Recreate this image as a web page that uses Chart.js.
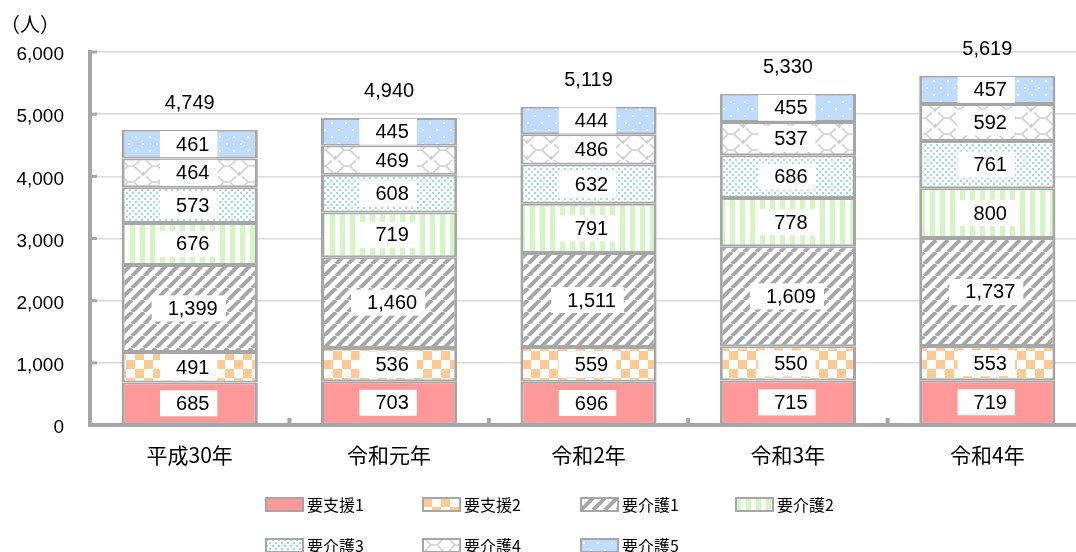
<!DOCTYPE html>
<html><head><meta charset="utf-8">
<script src="https://cdn.jsdelivr.net/npm/chart.js@4/dist/chart.umd.min.js"></script>
<style>
html,body{margin:0;padding:0;background:#fff;overflow:hidden;width:1076px;height:552px;}
#wrap{position:absolute;left:0;top:0;width:1090px;height:552px;}
</style></head>
<body><div id="wrap"><canvas id="c" width="1090" height="552"></canvas></div>
<script>
const categories = ['平成30年','令和元年','令和2年','令和3年','令和4年'];
const seriesNames = ['要支援1','要支援2','要介護1','要介護2','要介護3','要介護4','要介護5'];
const s1 = [685, 703, 696, 715, 719];
const s2 = [491, 536, 559, 550, 553];
const k1 = [1399, 1460, 1511, 1609, 1737];
const k2 = [676, 719, 791, 778, 800];
const k3 = [573, 608, 632, 686, 761];
const k4 = [464, 469, 486, 537, 592];
const k5 = [461, 445, 444, 455, 457];
const totals = [4749, 4940, 5119, 5330, 5619];
const yTicks = [0, 1000, 2000, 3000, 4000, 5000, 6000];

function tile(w, h, draw){
  const c = document.createElement('canvas'); c.width = w; c.height = h;
  const g = c.getContext('2d'); draw(g, w, h);
  return g.createPattern(c, 'repeat');
}
const patterns = [
  '#ff9999',
  tile(18,18,(g)=>{g.fillStyle='#fff';g.fillRect(0,0,18,18);g.fillStyle='#ffc993';g.fillRect(0,0,9,9);g.fillRect(9,9,9,9);}),
  tile(12,12,(g)=>{g.fillStyle='#fff';g.fillRect(0,0,12,12);g.strokeStyle='#a6a6a6';g.lineWidth=4;
    for(const o of [-12,0,12]){g.beginPath();g.moveTo(o,12);g.lineTo(o+12,0);g.stroke();}}),
  tile(10,10,(g)=>{g.fillStyle='#fff';g.fillRect(0,0,10,10);g.fillStyle='#d3f6c2';g.fillRect(0,0,5,10);}),
  tile(6,6,(g)=>{g.fillStyle='#fff';g.fillRect(0,0,6,6);g.fillStyle='#95e3cc';g.fillRect(0,0,2,2);g.fillRect(3,3,2,2);}),
  tile(24,16,(g)=>{g.fillStyle='#fff';g.fillRect(0,0,24,16);g.strokeStyle='#cfcfcf';g.lineWidth=1.6;
    g.beginPath();g.moveTo(0,14);g.lineTo(8,6);g.lineTo(14,6);g.lineTo(22,14);g.lineTo(24,14);
    g.moveTo(8,6);g.lineTo(2,0);g.moveTo(14,6);g.lineTo(20,0);g.moveTo(22,14);g.lineTo(24,12);
    g.moveTo(0,14);g.lineTo(-2,16);g.moveTo(22,14);g.lineTo(24,16);g.stroke();}),
  tile(14,14,(g)=>{g.fillStyle='#bfdcff';g.fillRect(0,0,14,14);g.fillStyle='#fff';g.fillRect(2,3,2,2);g.fillRect(9,10,2,2);})
];
const seriesData = [s1, s2, k1, k2, k3, k4, k5];

const datasets = seriesData.map((d,i)=>({
  label: seriesNames[i], data: d, backgroundColor: patterns[i],
  borderColor: '#a6a6a6', borderWidth: {top:2,bottom:2,left:3,right:3}, borderSkipped: false,
  categoryPercentage: 1, barPercentage: 0.683
}));

const fmt = v => v.toLocaleString('en-US');
const numFont = '20px "Liberation Sans", Arial, sans-serif';
const jpFont = '"Noto Sans CJK JP", sans-serif';

const labelPlugin = {
  id: 'labels',
  afterDatasetsDraw(chart){
    const ctx = chart.ctx;
    ctx.save();
    ctx.font = numFont; ctx.textAlign='center'; ctx.textBaseline='middle';
    chart.data.datasets.forEach((ds, di)=>{
      const meta = chart.getDatasetMeta(di);
      meta.data.forEach((bar, i)=>{
        const txt = fmt(ds.data[i]);
        const cy = (bar.y + bar.base)/2;
        const w = ctx.measureText(txt).width + 24;
        ctx.fillStyle = '#fff';
        ctx.fillRect(bar.x - 1 - w/2, cy - 13, w, 26);
        ctx.fillStyle = '#000';
        ctx.fillText(txt, bar.x + 3, cy + 1);
      });
    });
    const top = chart.getDatasetMeta(chart.data.datasets.length-1);
    ctx.font = '20px "Liberation Sans", Arial, sans-serif';
    top.data.forEach((bar,i)=>{
      ctx.fillStyle='#000';
      ctx.fillText(fmt(totals[i]), bar.x, chart.scales.y.getPixelForValue(totals[i]) - 26);
    });
    ctx.restore();
  },
  afterDraw(chart){
    const ctx = chart.ctx, ca = chart.chartArea, ys = chart.scales.y, xs = chart.scales.x;
    ctx.save();
    ctx.strokeStyle = '#a6a6a6'; ctx.lineWidth = 3;
    yTicks.forEach(v=>{
      const y = ys.getPixelForValue(v);
      ctx.beginPath(); ctx.moveTo(ca.left, y); ctx.lineTo(ca.left + 7, y); ctx.stroke();
    });
    ctx.lineWidth = 4;
    const step = xs.getPixelForValue(1) - xs.getPixelForValue(0);
    for(let i=1;i<=categories.length;i++){
      const x = xs.getPixelForValue(i-1) + step/2;
      ctx.beginPath(); ctx.moveTo(x, ca.bottom); ctx.lineTo(x, ca.bottom - 7); ctx.stroke();
    }
    ctx.fillStyle = '#000'; ctx.font = '20px ' + jpFont; ctx.textAlign='left'; ctx.textBaseline='middle';
    ctx.fillText('（人）', 0, 24);
    const cols = [266, 423, 581, 736], rows = [504, 545];
    ctx.font = '16px ' + jpFont;
    chart.data.datasets.forEach((ds, i)=>{
      const x = cols[i % 4], y = rows[Math.floor(i/4)];
      ctx.fillStyle = ds.backgroundColor;
      ctx.save(); ctx.translate(x, y-6);
      ctx.fillRect(0, 0, 37, 13);
      ctx.restore();
      ctx.strokeStyle = '#a6a6a6'; ctx.lineWidth = 2;
      ctx.strokeRect(x, y-6, 37, 13);
      ctx.fillStyle = '#000';
      ctx.fillText(ds.label, x + 41, y + 1);
    });
    ctx.restore();
  }
};

new Chart(document.getElementById('c'), {
  type: 'bar',
  data: { labels: categories, datasets },
  options: {
    responsive: false, animation: false,
    layout: { padding: { top: 52, right: 3, left: 0, bottom: 0 } },
    plugins: { legend: { display: false }, tooltip: { enabled: false }, title: { display: false } },
    scales: {
      x: {
        stacked: true,
        grid: { display: false, drawTicks: false },
        border: { display: true, color: '#a6a6a6', width: 4 },
        ticks: { color: '#000', font: { family: '"Noto Sans CJK JP", sans-serif', size: 21 }, padding: 17 },
        afterFit: s => { s.height = 127; }
      },
      y: {
        stacked: true, min: 0, max: 6000,
        afterBuildTicks: s => { s.ticks = yTicks.map(v => ({ value: v })); },
        grid: { color: '#d9d9d9', lineWidth: 1.5, drawTicks: false },
        border: { display: true, color: '#a6a6a6', width: 4 },
        ticks: { color: '#000', font: { family: '"Liberation Sans", Arial, sans-serif', size: 19 }, padding: 26,
                 labelOffset: 3, callback: v => fmt(v) },
        afterFit: s => { s.width = 90; }
      }
    }
  },
  plugins: [labelPlugin]
});
</script></body></html>
